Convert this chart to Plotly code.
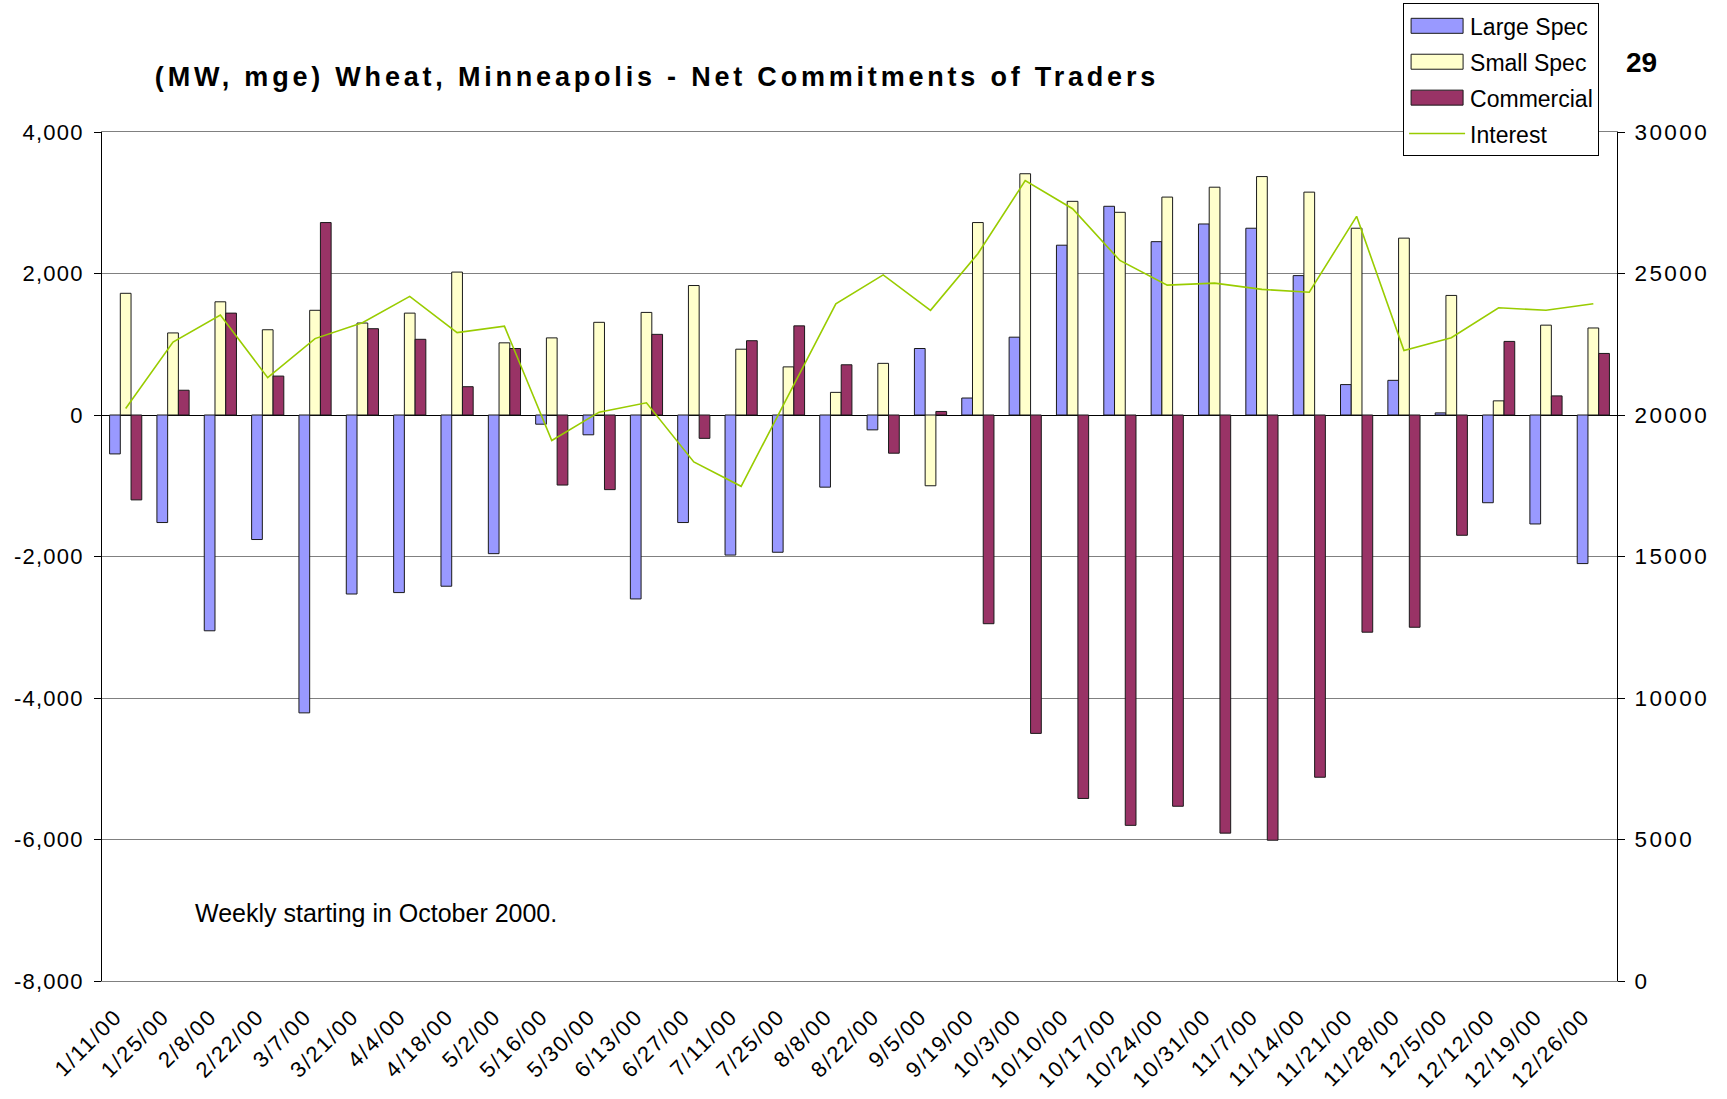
import plotly.graph_objects as go

dates = ["1/11/00", "1/25/00", "2/8/00", "2/22/00", "3/7/00", "3/21/00", "4/4/00", "4/18/00",
         "5/2/00", "5/16/00", "5/30/00", "6/13/00", "6/27/00", "7/11/00", "7/25/00", "8/8/00",
         "8/22/00", "9/5/00", "9/19/00", "10/3/00", "10/10/00", "10/17/00", "10/24/00", "10/31/00",
         "11/7/00", "11/14/00", "11/21/00", "11/28/00", "12/5/00", "12/12/00", "12/19/00", "12/26/00"]

large_spec = [-550, -1520, -3050, -1760, -4210, -2530, -2510, -2420,
              -1960, -130, -280, -2600, -1520, -1980, -1940, -1020,
              -210, 940, 240, 1100, 2400, 2950, 2450, 2700,
              2640, 1970, 430, 490, 30, -1240, -1540, -2100]

small_spec = [1720, 1160, 1600, 1205, 1480, 1300, 1440, 2020,
              1020, 1090, 1310, 1450, 1830, 930, 680, 320,
              730, -1000, 2720, 3410, 3020, 2865, 3080, 3220,
              3370, 3150, 2640, 2500, 1690, 200, 1270, 1230]

commercial = [-1200, 350, 1440, 550, 2720, 1220, 1070, 400,
              940, -990, -1055, 1140, -330, 1050, 1260, 710,
              -540, 50, -2950, -4500, -5420, -5800, -5530, -5910,
              -6010, -5120, -3070, -3000, -1700, 1040, 270, 870]

interest = [20230, 22580, 23530, 21320, 22700, 23260, 24190, 22910,
            23140, 19100, 20100, 20430, 18340, 17480, 20700, 23930,
            24950, 23700, 25700, 28280, 27290, 25460, 24590, 24660,
            24440, 24340, 27020, 22280, 22730, 23790, 23700, 23930]

left_ticks = [-8000, -6000, -4000, -2000, 0, 2000, 4000]
left_labels = ["-8,000", "-6,000", "-4,000", "-2,000", "0", "2,000", "4,000"]
right_ticks = [0, 5000, 10000, 15000, 20000, 25000, 30000]
right_labels = ["0", "5000", "10000", "15000", "20000", "25000", "30000"]

title_text = "(MW, mge) Wheat, Minneapolis - Net Commitments of Traders"
note_text = "Weekly starting in October 2000."
corner_text = "29"

FONT = "Liberation Sans, Arial, sans-serif"
OUTLINE = dict(color="#1a1a1a", width=1)

fig = go.Figure()
fig.add_trace(go.Bar(x=dates, y=large_spec, name="Large Spec",
                     marker=dict(color="#9999FF", line=OUTLINE), legendgroup="a"))
fig.add_trace(go.Bar(x=dates, y=small_spec, name="Small Spec",
                     marker=dict(color="#FFFFCC", line=OUTLINE), legendgroup="b"))
fig.add_trace(go.Bar(x=dates, y=commercial, name="Commercial",
                     marker=dict(color="#993366", line=OUTLINE), legendgroup="c"))
fig.add_trace(go.Scatter(x=dates, y=interest, name="Interest", yaxis="y2", mode="lines",
                         line=dict(color="#99CC00", width=1.6), legendgroup="d"))

n = len(dates)
ymin, ymax = left_ticks[0], left_ticks[-1]
zero_pos = (0 - ymin) / (ymax - ymin)
boundaries = [i + 0.5 for i in range(n - 1)]

fig.update_layout(
    width=1727, height=1099,
    margin=dict(l=102, r=110, t=132, b=118, autoexpand=False),
    paper_bgcolor="white", plot_bgcolor="white",
    font=dict(family=FONT, size=22, color="black"),
    barmode="group", bargap=0.32, bargroupgap=0,
    title=dict(text="<b>" + title_text + "</b>", x=0.3804, xref="container", xanchor="center",
               y=0.93, yref="container", yanchor="middle",
               font=dict(family=FONT, size=27, color="black")),
    showlegend=True,
    legend=dict(x=0.8588, y=1.1515, xanchor="left", yanchor="top",
                bgcolor="white", bordercolor="black", borderwidth=1,
                font=dict(family=FONT, size=23, color="black"),
                traceorder="grouped", tracegroupgap=3, itemwidth=56),
    xaxis=dict(type="category", categoryorder="array", categoryarray=dates,
               range=[-0.5, n - 0.5], tickangle=-45, ticks="", showgrid=False,
               showline=True, linecolor="#808080", linewidth=1, mirror=True,
               zeroline=False, tickfont=dict(family=FONT, size=22),
               ticklabelstandoff=13, ticklabelshift=-10),
    xaxis2=dict(overlaying="x", anchor="free", position=zero_pos, range=[-0.5, n - 0.5],
                tickmode="array", tickvals=boundaries, showticklabels=False,
                ticks="outside", ticklen=7, tickcolor="black", tickwidth=1,
                showgrid=False, zeroline=False, showline=False),
    xaxis3=dict(overlaying="x", anchor="free", position=zero_pos, range=[-0.5, n - 0.5],
                tickmode="array", tickvals=boundaries, showticklabels=False,
                ticks="inside", ticklen=7, tickcolor="black", tickwidth=1,
                showgrid=False, zeroline=False, showline=False),
    yaxis=dict(range=[ymin, ymax], tickmode="array", tickvals=left_ticks, ticktext=left_labels,
               showgrid=True, gridcolor="#808080", gridwidth=1,
               zeroline=True, zerolinecolor="black", zerolinewidth=1,
               showline=True, linecolor="black", linewidth=1,
               ticks="outside", ticklen=7, tickcolor="black", ticklabelstandoff=6,
               tickfont=dict(family=FONT, size=22)),
    yaxis2=dict(overlaying="y", side="right", range=[right_ticks[0], right_ticks[-1]],
                tickmode="array", tickvals=right_ticks, ticktext=right_labels,
                showgrid=False, zeroline=False,
                showline=True, linecolor="black", linewidth=1,
                ticks="outside", ticklen=7, tickcolor="black", ticklabelstandoff=5,
                tickfont=dict(family=FONT, size=22.5)),
    annotations=[
        dict(text=note_text, xref="paper", yref="paper", x=0.0598, y=0.0804,
             xanchor="left", yanchor="middle", showarrow=False,
             font=dict(family=FONT, size=25, color="black")),
        dict(text="<b>" + corner_text + "</b>", xref="paper", yref="paper", x=1.0047, y=1.0815,
             xanchor="left", yanchor="middle", showarrow=False,
             font=dict(family=FONT, size=28, color="black")),
    ],
)

post = """
document.body.style.margin = '0';
document.documentElement.style.overflow = 'hidden';
var st = document.createElement('style');
st.textContent = '.gtitle{letter-spacing:3.8px} .xtick text{letter-spacing:1.8px} .ytick text{letter-spacing:1.2px} .y2tick text{letter-spacing:2.4px}';
document.head.appendChild(st);
document.querySelectorAll('.legend .legendpoints path').forEach(function(p){
  var d = p.getAttribute('d') || '';
  if (d.indexOf('M6,6H-6V-6H6Z') === 0) {
    p.setAttribute('d', 'M26,7.5H-26V-7.5H26Z');
  }
});
"""

fig.write_html("out.html", post_script=post, config={"displayModeBar": False})
